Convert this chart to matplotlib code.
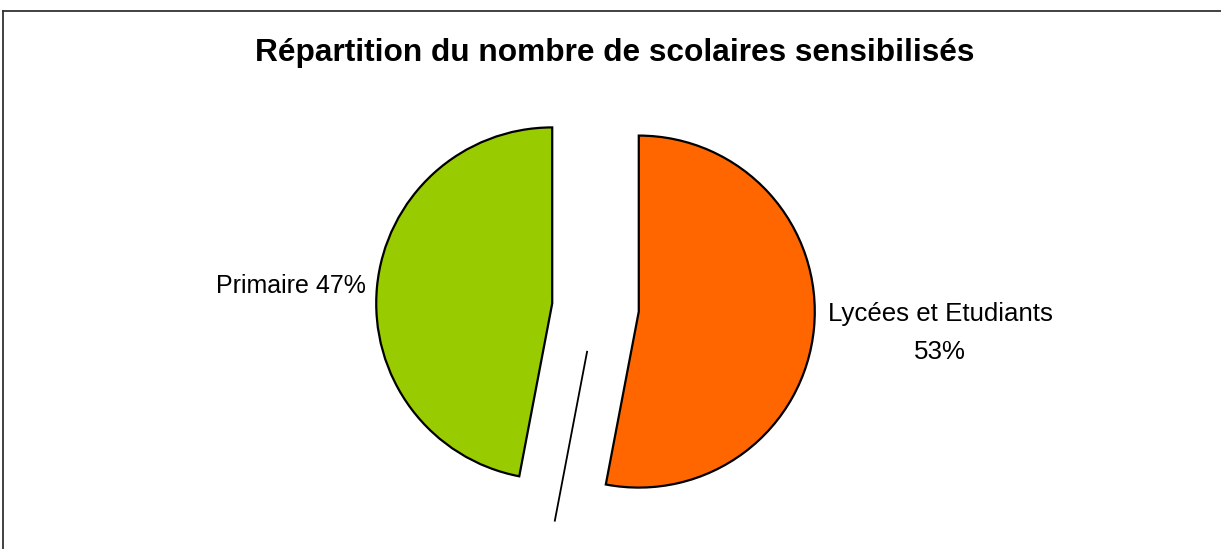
import numpy as np
import matplotlib
matplotlib.use("Agg")
import matplotlib.pyplot as plt
from matplotlib.lines import Line2D

title = "Répartition du nombre de scolaires sensibilisés"
categories = ["Lycées et Etudiants", "Primaire"]
values = [53, 47]
colors = ["#FF6600", "#99CC00"]

plt.rcParams['font.family'] = ['Liberation Sans', 'DejaVu Sans']

W, H = 1221, 549
fig = plt.figure(figsize=(W / 100, H / 100), dpi=100)
ax = fig.add_axes([0, 0, 1, 1])
R = 176.0
cx, cy = 595.5, 307.5
ax.set_xlim(-cx / R, (W - cx) / R)
ax.set_ylim((cy - H) / R, cy / R)
ax.set_aspect('equal')
ax.axis('off')

explode = [0.247, 0.247]
ax.pie(values, startangle=90, counterclock=False, explode=explode,
       colors=colors, radius=1.0,
       wedgeprops=dict(edgecolor='black', linewidth=1.6), frame=False)
ax.set_xlim(-cx / R, (W - cx) / R)
ax.set_ylim((cy - H) / R, cy / R)

# leader-like line along the boundary between the slices
ang = np.deg2rad(90 - 360 * values[0] / sum(values))
r0, r1 = 0.256, 1.233
ax.plot([r0 * np.cos(ang), r1 * np.cos(ang)], [r0 * np.sin(ang), r1 * np.sin(ang)],
        color='black', lw=1.3)

def px(x, y):
    return ((x - cx) / R, (cy - y) / R)

ax.text(*px(366, 286), f"{categories[1]} {values[1]}%", ha='right', va='center',
        fontsize=18, color='black')
ax.text(*px(940, 333), f"{categories[0]}\n{values[0]}%", ha='center', va='center',
        fontsize=18.6, color='black', linespacing=1.7)

fig.text(614.5 / W, 1 - 53 / H, title, ha='center', va='center',
         fontsize=22.8, fontweight='bold')

# outer frame (clipped at right and bottom)
fig.add_artist(Line2D([3 / W, 3 / W], [1 - 11 / H, 0], transform=fig.transFigure,
                      color='#333333', lw=1.3))
fig.add_artist(Line2D([3 / W, 1], [1 - 11 / H, 1 - 11 / H], transform=fig.transFigure,
                      color='#333333', lw=1.3))

fig.savefig("out.png", dpi=100)
